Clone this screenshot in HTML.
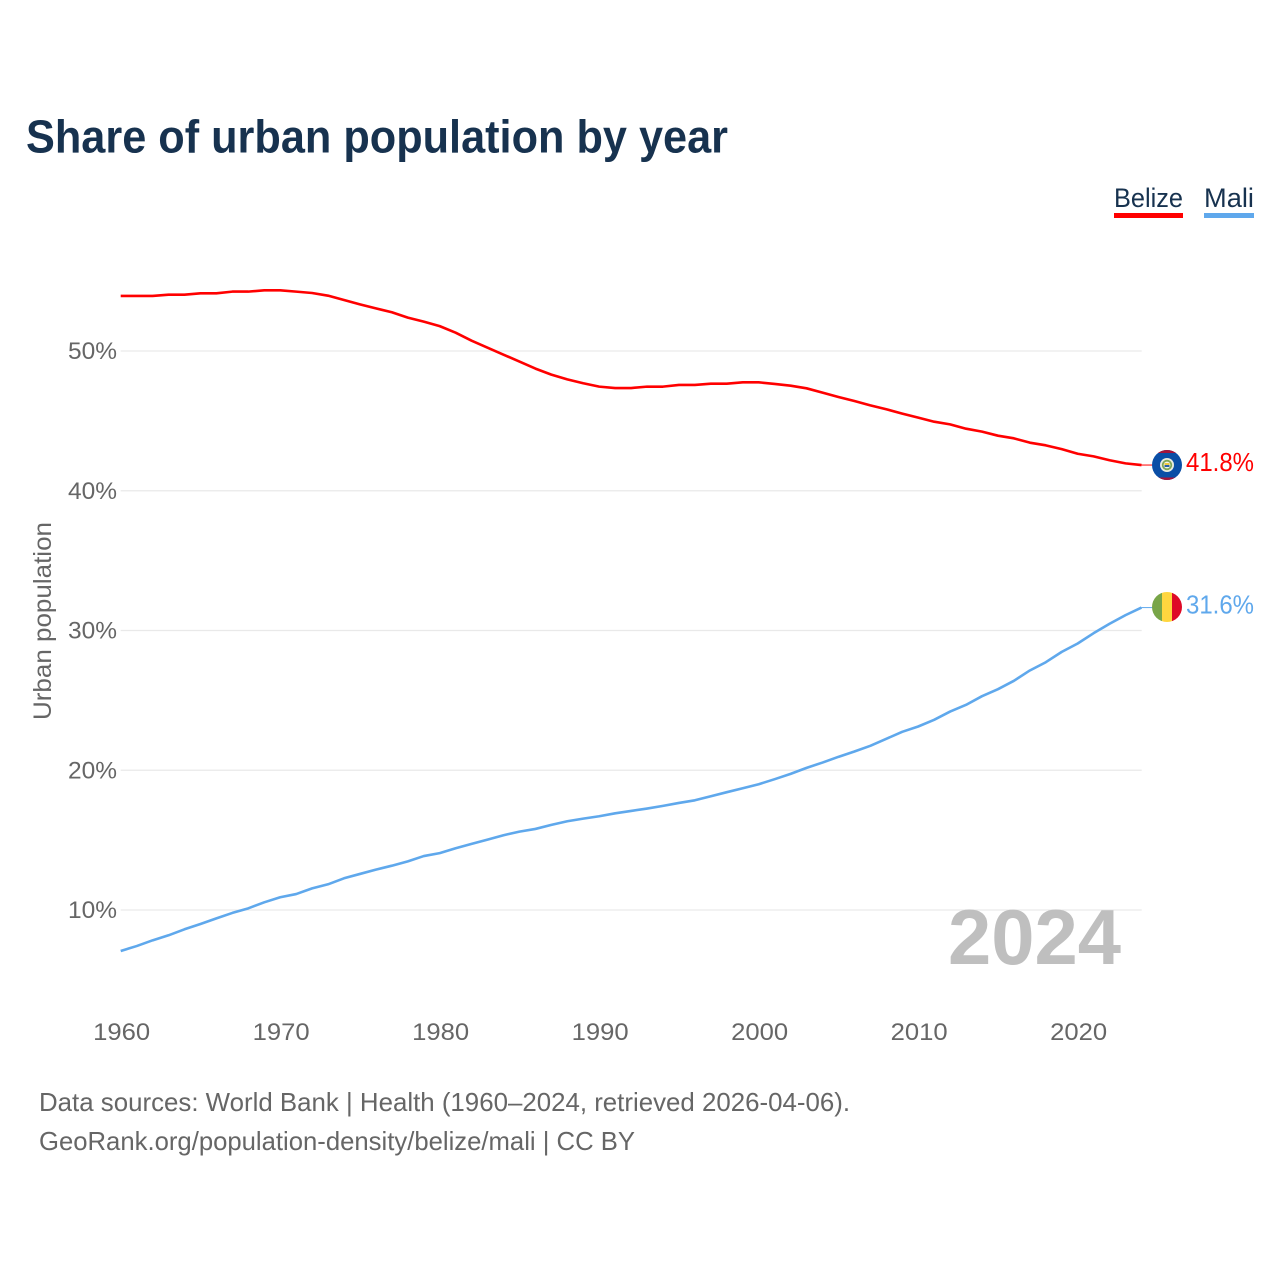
<!DOCTYPE html>
<html lang="en">
<head>
<meta charset="utf-8">
<title>Share of urban population by year</title>
<style>
html,body{margin:0;padding:0;background:#fff;width:1280px;height:1280px;overflow:hidden}
svg{display:block;font-family:"Liberation Sans",sans-serif}
</style>
</head>
<body>
<svg id="chart" xmlns="http://www.w3.org/2000/svg" width="1280" height="1280" viewBox="0 0 1280 1280">
  <defs>
    <clipPath id="flag-clip-belize"><circle cx="1167" cy="465" r="15"/></clipPath>
    <clipPath id="flag-clip-mali"><circle cx="1167" cy="607" r="15"/></clipPath>
  </defs>
  <rect x="0" y="0" width="1280" height="1280" fill="#fff"/>
  <text x="26" y="152.500" font-size="46" font-weight="700" fill="#17324f" textLength="702" lengthAdjust="spacingAndGlyphs">Share of urban population by year</text>

  <g id="grid-layer"></g>
  <g id="y-tick-layer"></g>
  <g id="x-tick-layer"></g>
  <text transform="translate(51,621) rotate(-90)" text-anchor="middle" font-size="25" fill="#666666" textLength="198" lengthAdjust="spacingAndGlyphs">Urban population</text>
  <text x="948" y="964" font-size="78" font-weight="700" fill="#bfbfbf" textLength="173" lengthAdjust="spacingAndGlyphs">2024</text>

  <g id="series-layer"></g>

  <g>
    <text x="1114" y="207" font-size="26.5" fill="#17324f" textLength="69" lengthAdjust="spacingAndGlyphs">Belize</text>
    <rect x="1114" y="213" width="69" height="5" fill="#ff0000"/>
  </g>
  <g>
    <text x="1204" y="207" font-size="26.5" fill="#17324f" textLength="50" lengthAdjust="spacingAndGlyphs">Mali</text>
    <rect x="1204" y="213" width="50" height="5" fill="#5fa8ec"/>
  </g>

  <g clip-path="url(#flag-clip-belize)">
    <rect x="1150" y="448" width="34" height="34" fill="#0a4ea6"/>
    <rect x="1150" y="448" width="34" height="5" fill="#a5143a"/>
    <rect x="1150" y="477.500" width="34" height="5" fill="#a5143a"/>
    <circle cx="1167" cy="465" r="7" fill="#e8ece0"/>
    <circle cx="1167" cy="465" r="5.2" fill="#7fa657"/>
    <circle cx="1167" cy="465" r="3.4" fill="#f4f4ee"/>
    <rect x="1164.500" y="463" width="5" height="2" fill="#f0c93c"/>
    <rect x="1164.500" y="465" width="5" height="2" fill="#2a62a8"/>
  </g>
  <g clip-path="url(#flag-clip-mali)">
    <rect x="1150" y="590" width="12" height="34" fill="#78a548"/>
    <rect x="1162" y="590" width="10" height="34" fill="#ffd63f"/>
    <rect x="1172" y="590" width="14" height="34" fill="#de0a26"/>
  </g>

  <g id="value-label-layer"></g>

  <text x="39" y="1111" font-size="26" fill="#666666" textLength="811" lengthAdjust="spacingAndGlyphs">Data sources: World Bank | Health (1960–2024, retrieved 2026-04-06).</text>
  <text x="39" y="1150" font-size="26" fill="#666666" textLength="596" lengthAdjust="spacingAndGlyphs">GeoRank.org/population-density/belize/mali | CC BY</text>
</svg>
<script>
const startYear = 1960;
const xTickYears = [1960, 1970, 1980, 1990, 2000, 2010, 2020];
const yTickValues = [10, 20, 30, 40, 50];
const belizeValues = [
  53.94, 53.94, 53.94, 54.03, 54.03, 54.13, 54.13, 54.25, 54.25, 54.34,
  54.34, 54.25, 54.15, 53.96, 53.65, 53.34, 53.05, 52.77, 52.39, 52.10,
  51.78, 51.31, 50.74, 50.24, 49.74, 49.24, 48.74, 48.31, 47.97, 47.69,
  47.45, 47.35, 47.35, 47.45, 47.45, 47.57, 47.57, 47.66, 47.66, 47.76,
  47.76, 47.64, 47.52, 47.33, 47.02, 46.71, 46.42, 46.11, 45.83, 45.52,
  45.23, 44.94, 44.75, 44.44, 44.23, 43.94, 43.75, 43.44, 43.25, 42.98,
  42.65, 42.46, 42.18, 41.96, 41.84
];
const maliValues = [
  7.07, 7.42, 7.83, 8.19, 8.62, 9.00, 9.40, 9.79, 10.12, 10.55,
  10.91, 11.14, 11.55, 11.84, 12.27, 12.58, 12.89, 13.17, 13.48, 13.86,
  14.07, 14.42, 14.73, 15.04, 15.35, 15.61, 15.80, 16.09, 16.35, 16.54,
  16.71, 16.92, 17.09, 17.26, 17.45, 17.66, 17.85, 18.14, 18.43, 18.71,
  19.00, 19.36, 19.74, 20.17, 20.55, 20.96, 21.34, 21.75, 22.25, 22.75,
  23.13, 23.61, 24.20, 24.68, 25.30, 25.80, 26.40, 27.14, 27.73, 28.47,
  29.07, 29.81, 30.48, 31.10, 31.64
];
const belizeEndLabel = "41.8%";
const maliEndLabel = "31.6%";

const SVGNS = "http://www.w3.org/2000/svg";
function xScale(year) { return 120.7 + (year - 1960) * 15.95; }
function yScale(value) { return 910 - (value - 10) * 13.975; }
function pathFrom(values) {
  return values.map(function (v, i) {
    return (i ? "L" : "M") + xScale(startYear + i).toFixed(2) + " " + yScale(v).toFixed(2);
  }).join(" ");
}
function make(tag, attrs, parent, textValue) {
  const el = document.createElementNS(SVGNS, tag);
  Object.keys(attrs).forEach(function (k) { el.setAttribute(k, attrs[k]); });
  if (textValue !== undefined) el.textContent = textValue;
  parent.appendChild(el);
  return el;
}

const gridLayer = document.getElementById("grid-layer");
const yTickLayer = document.getElementById("y-tick-layer");
const xTickLayer = document.getElementById("x-tick-layer");
const seriesLayer = document.getElementById("series-layer");
const labelLayer = document.getElementById("value-label-layer");

yTickValues.forEach(function (v) {
  const line = make("line", { x1: 120.7, x2: 1141.7, y1: yScale(v), y2: yScale(v), stroke: "#e9e9e9", "stroke-width": 1.3 }, gridLayer);
  
  
  const label = make("text", { x: 117, y: yScale(v) + 8, "text-anchor": "end", "font-size": 24, fill: "#666666", textLength: 49, lengthAdjust: "spacingAndGlyphs" }, yTickLayer, v + "%");
  
  
});

xTickYears.forEach(function (year) {
  const label = make("text", { x: xScale(year) + 1, y: 1040, "text-anchor": "middle", "font-size": 24, fill: "#666666", textLength: 57, lengthAdjust: "spacingAndGlyphs" }, xTickLayer, String(year));
  
  
});

function drawSeries(name, values, color, endLabel) {
  const lastY = yScale(values[values.length - 1]);
  const lastX = xScale(startYear + values.length - 1);
  const path = make("path", { d: pathFrom(values), fill: "none", stroke: color, "stroke-width": 2.6, "stroke-linejoin": "round" }, seriesLayer);
  
  
  const connector = make("line", { x1: lastX, x2: lastX + 11, y1: lastY, y2: lastY, stroke: color, "stroke-width": 1 }, seriesLayer);
  
  
  const label = make("text", { x: 1186, y: lastY + 6, "font-size": 26, fill: color, textLength: 68, lengthAdjust: "spacingAndGlyphs" }, labelLayer, endLabel);
  
  
}
drawSeries("belize", belizeValues, "#ff0000", belizeEndLabel);
drawSeries("mali", maliValues, "#5fa8ec", maliEndLabel);
</script>
</body>
</html>
